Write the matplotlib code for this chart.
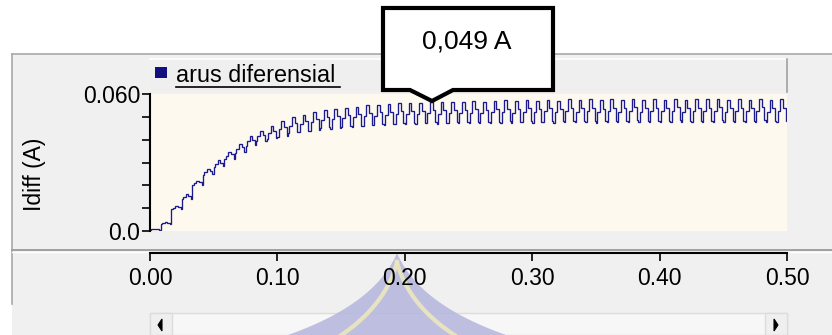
import numpy as np
import matplotlib
matplotlib.use("Agg")
import matplotlib.pyplot as plt
from matplotlib.patches import Rectangle, Polygon
from matplotlib.lines import Line2D

plt.rcParams['font.family'] = ['Liberation Sans', 'DejaVu Sans']

W, H = 832, 335

# values, one peak / trough per 120 Hz ripple cycle
cycle_period = 1 / 120.0
peaks = [0.0010, 0.0040, 0.0110, 0.0160, 0.0220, 0.0270, 0.0310, 0.0348, 0.0380, 0.0415,
         0.0440, 0.0460, 0.0480, 0.0499, 0.0510, 0.0520, 0.0530, 0.0534, 0.0540, 0.0544,
         0.0550, 0.0553, 0.0556, 0.0559, 0.0562, 0.0560, 0.0565, 0.0563, 0.0567, 0.0566,
         0.0569, 0.0565, 0.0570, 0.0572, 0.0568, 0.0574, 0.0571, 0.0575, 0.0569, 0.0576,
         0.0573, 0.0577, 0.0572, 0.0576, 0.0574, 0.0578, 0.0573, 0.0577, 0.0575, 0.0578,
         0.0572, 0.0577, 0.0576, 0.0578, 0.0573, 0.0577, 0.0575, 0.0578, 0.0574, 0.0576]
troughs = [0.0005, 0.0030, 0.0095, 0.0140, 0.0200, 0.0245, 0.0280, 0.0313, 0.0340, 0.0370,
           0.0390, 0.0400, 0.0410, 0.0424, 0.0430, 0.0435, 0.0445, 0.0444, 0.0450, 0.0451,
           0.0455, 0.0458, 0.0459, 0.0462, 0.0464, 0.0462, 0.0466, 0.0465, 0.0467, 0.0466,
           0.0468, 0.0466, 0.0469, 0.0470, 0.0468, 0.0471, 0.0469, 0.0472, 0.0470, 0.0472,
           0.0471, 0.0473, 0.0470, 0.0473, 0.0472, 0.0474, 0.0471, 0.0473, 0.0472, 0.0474,
           0.0471, 0.0473, 0.0473, 0.0474, 0.0471, 0.0473, 0.0472, 0.0474, 0.0472, 0.0473]
# stepped shape inside one cycle (fraction of trough->peak)
cycle_shape = [0.05, 0.5, 0.5, 1.0, 1.0, 0.65, 0.65, 0.1]

xticks = [0.0, 0.1, 0.2, 0.3, 0.4, 0.5]
xticklabels = ['0.00', '0.10', '0.20', '0.30', '0.40', '0.50']
yticks = [0.0, 0.01, 0.02, 0.03, 0.04, 0.05, 0.06]
yticklabels = ['0.0', '', '', '', '', '', '0.060']
series_name = 'arus diferensial'
ylabel = 'Idiff (A)'
callout_text = '0,049 A'

# build the stepped trace
t, v = [], []
n = len(cycle_shape)
for k, (p, tr) in enumerate(zip(peaks, troughs)):
    for j, s in enumerate(cycle_shape):
        t.append(k * cycle_period + j * cycle_period / n)
        v.append(tr + s * (p - tr))
t.append(0.5)
v.append(v[-1])


def fr(x, y, w=0, h=0):
    # pixel box (top-left origin) -> figure fraction (left, bottom, w, h)
    return x / W, 1 - (y + h) / H, w / W, h / H


def rect(x, y, w, h, **kw):
    l, b, ww, hh = fr(x, y, w, h)
    fig.add_artist(Rectangle((l, b), ww, hh, transform=fig.transFigure, **kw))


def hline(x0, x1, y, **kw):
    fig.add_artist(Line2D([x0 / W, x1 / W], [1 - y / H, 1 - y / H], transform=fig.transFigure, **kw))


def vline(x, y0, y1, **kw):
    fig.add_artist(Line2D([x / W, x / W], [1 - y0 / H, 1 - y1 / H], transform=fig.transFigure, **kw))


fig = plt.figure(figsize=(W / 100, H / 100), dpi=100, facecolor='white')

# window panels
rect(12, 54, 820, 281, facecolor='#f0f0f0', edgecolor='none', zorder=-10)
hline(12, 832, 54, color='#a9a9a9', lw=1.2, zorder=-9)
vline(12, 54, 304, color='#a9a9a9', lw=1.2, zorder=-9)
hline(12, 832, 249.5, color='#a0a0a0', lw=1.4, zorder=-9)
hline(12, 832, 251.5, color='#ffffff', lw=1.0, zorder=-9)

# legend strip
rect(150, 59, 637, 33, facecolor='#efefef', edgecolor='none', zorder=-8)
hline(150, 787, 59, color='#ffffff', lw=1.2, zorder=-7)
vline(787, 59, 92, color='#a0a0a0', lw=1.2, zorder=-7)
rect(155, 67, 12, 11, facecolor='#10107e', edgecolor='none', zorder=2)
fig.text(176 / W, 1 - 76 / H, series_name, fontsize=16.8, va='center', ha='left', color='black')
hline(176, 340, 87, color='black', lw=1.2, zorder=2)

# scrollbar
rect(150, 313, 637, 22, facecolor='#f7f7f7', edgecolor='#dcdcdc', lw=1.0, zorder=-8)
rect(150, 313, 22, 22, facecolor='#efefef', edgecolor='#dcdcdc', lw=1.0, zorder=-7)
rect(765, 313, 22, 22, facecolor='#efefef', edgecolor='#dcdcdc', lw=1.0, zorder=-7)
for pts in ([(162, 319), (162, 331), (158, 325)], [(774, 319), (774, 331), (778, 325)]):
    fig.add_artist(Polygon([(x / W, 1 - y / H) for x, y in pts], closed=True,
                           transform=fig.transFigure, facecolor='black', edgecolor='black',
                           lw=0.8, zorder=3))

# faded watermark
s = np.linspace(0, 1, 40)


def arch(tip, foot, ctrl):
    return (1 - s) ** 2 * np.array(tip)[:, None] + 2 * (1 - s) * s * np.array(ctrl)[:, None] \
        + s ** 2 * np.array(foot)[:, None]


left = arch((397, 253), (285, 336), (375, 305))
right = arch((397, 253), (509, 336), (419, 305))
outline = np.hstack([left, right[:, ::-1]]).T
fig.add_artist(Polygon([(x / W, 1 - y / H) for x, y in outline], closed=True,
                       transform=fig.transFigure, facecolor='#b4b6dd', edgecolor='none',
                       alpha=0.85, zorder=-5))
for foot, ctrl in (((340, 336), (386, 305)), ((456, 336), (408, 305))):
    c = arch((397, 262), foot, ctrl)
    fig.add_artist(Line2D(c[0] / W, 1 - c[1] / H, transform=fig.transFigure,
                          color='#ece8bd', lw=3.0, alpha=0.9, zorder=-4))

# main plot area
ax = fig.add_axes(fr(150, 94, 637, 137))
ax.set_facecolor('#fdf9ef')
ax.plot(t, v, color='#1a1a8e', lw=0.95, drawstyle='steps-post', solid_joinstyle='miter')
ax.set_xlim(0, 0.5)
ax.set_ylim(0, 0.06)
for sp in ('top', 'right', 'bottom'):
    ax.spines[sp].set_visible(False)
ax.spines['left'].set_linewidth(1.5)
ax.set_xticks([])
ax.set_yticks(yticks)
ax.set_yticklabels(yticklabels)
ax.tick_params(axis='y', length=5.5, width=1.2, pad=1.5, labelsize=16.5)
fig.text(35 / W, 1 - 174 / H, ylabel, rotation=90, fontsize=16.5, ha='center', va='center')

# separate time axis
axx = fig.add_axes(fr(150, 252, 637, 0.5))
axx.set_xlim(0, 0.5)
axx.patch.set_visible(False)
for sp in ('top', 'right', 'left'):
    axx.spines[sp].set_visible(False)
axx.spines['bottom'].set_linewidth(1.5)
axx.set_yticks([])
axx.set_xticks(xticks)
axx.set_xticklabels(xticklabels)
axx.tick_params(axis='x', length=6, width=1.2, pad=4.5, labelsize=16.5)

# callout
box = [(383, 8), (553, 8), (553, 90), (453, 90), (432, 101), (410, 90), (383, 90)]
fig.add_artist(Polygon([(x / W, 1 - y / H) for x, y in box], closed=True,
                       transform=fig.transFigure, facecolor='white', edgecolor='black',
                       lw=3.0, joinstyle='miter', zorder=10))
fig.text(467 / W, 1 - 41 / H, callout_text, fontsize=19, ha='center', va='center', zorder=11)

fig.savefig('out.png', dpi=100)
